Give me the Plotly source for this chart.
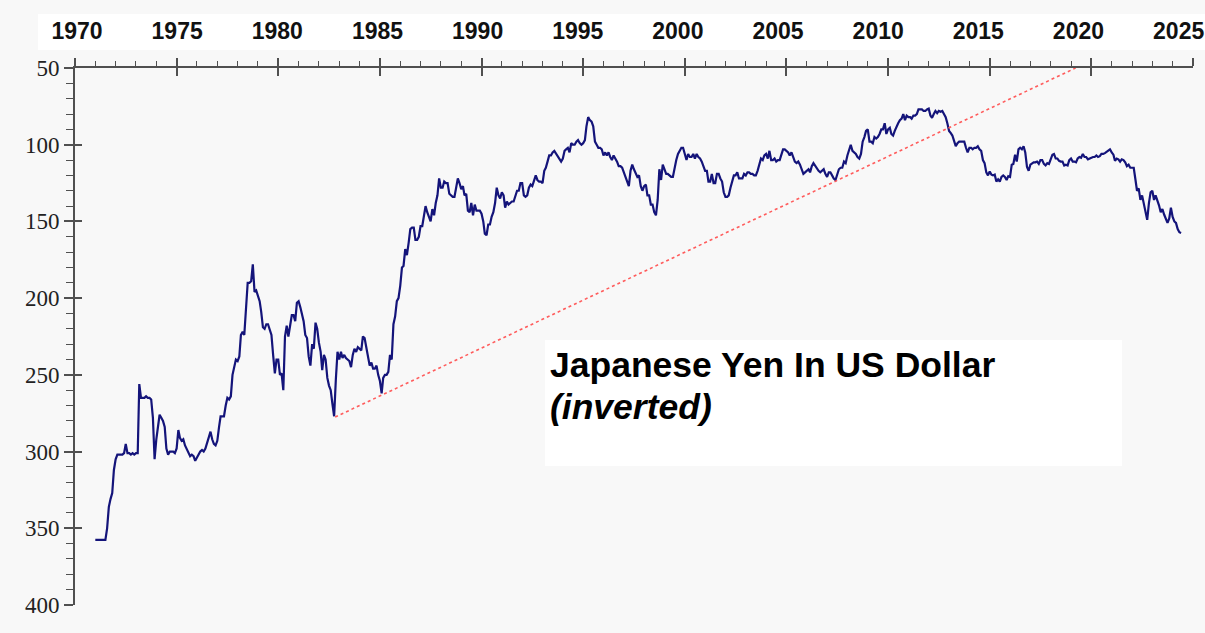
import pandas as pd
import plotly.graph_objects as go

# USD/JPY, monthly, Jan 1971 - Jun 2024 (yen per dollar)
yen_1970s = [
    357.6, 357.6, 357.6, 357.6, 357.6, 357.6, 357.6, 350, 336, 331, 327, 312,
    305, 302, 302, 302, 302, 301, 295, 301, 301, 302, 301, 302,
    301, 301, 256, 265, 265, 265, 264, 265, 265, 266, 278, 305,
    292, 285, 276, 278, 280, 284, 298, 302, 300, 300, 300, 301,
    298, 286, 291, 293, 292, 296, 298, 301, 303, 302, 303, 306,
    304, 302, 300, 299, 300, 298, 294, 290, 287, 292, 295, 296,
    293, 284, 277, 277, 277, 270, 265, 266, 264, 250, 244, 240,
    241, 238, 224, 222, 224, 204, 190, 190, 189, 178, 196, 195,
    199, 202, 209, 219, 220, 217, 217, 220, 224, 237, 249, 240,
]
yen_1980s = [
    240, 250, 249, 260, 225, 218, 225, 218, 211, 211, 215, 203,
    202, 206, 210, 215, 224, 226, 238, 244, 230, 233, 216, 220,
    229, 235, 247, 237, 240, 252, 257, 260, 269, 277, 253, 235,
    240, 235, 239, 237, 239, 240, 241, 245, 237, 233, 235, 232,
    233, 234, 225, 226, 232, 238, 244, 242, 246, 246, 244, 250,
    254, 262, 252, 250, 250, 248, 237, 240, 217, 212, 202, 200,
    192, 180, 179, 168, 172, 164, 155, 154, 154, 162, 162, 160,
    153, 153, 146, 140, 144, 147, 150, 142, 146, 138, 133, 122,
    128, 128, 124, 125, 125, 132, 133, 134, 134, 127, 122, 125,
    129, 127, 133, 132, 143, 144, 138, 146, 139, 143, 143, 143,
]
yen_1990s = [
    145, 150, 158, 159, 152, 152, 147, 144, 138, 128, 133, 135,
    131, 133, 141, 137, 139, 138, 137, 137, 133, 130, 130, 125,
    125, 133, 134, 133, 128, 126, 127, 124, 120, 123, 124, 124,
    125, 117, 115, 111, 107, 107, 105, 104, 106, 108, 109, 111,
    109, 104, 103, 102, 105, 99, 100, 100, 98, 97, 99, 100,
    99, 97, 88, 82, 84, 85, 88, 98, 100, 102, 102, 103,
    107, 105, 107, 105, 108, 110, 107, 109, 111, 114, 114, 115,
    118, 121, 124, 127, 117, 113, 116, 119, 121, 120, 127, 130,
    127, 126, 133, 133, 139, 139, 144, 146, 136, 116, 123, 113,
    116, 119, 119, 120, 121, 121, 115, 110, 106, 104, 102, 102,
]
yen_2000s = [
    107, 110, 106, 108, 108, 106, 109, 106, 108, 109, 111, 114,
    117, 117, 124, 124, 119, 125, 125, 119, 119, 122, 124, 131,
    134, 134, 133, 128, 124, 120, 120, 118, 122, 122, 122, 119,
    120, 118, 118, 119, 119, 120, 120, 117, 112, 109, 110, 107,
    106, 109, 104, 110, 110, 109, 111, 110, 110, 106, 103, 103,
    104, 105, 107, 105, 108, 111, 112, 111, 113, 116, 119, 118,
    117, 116, 118, 114, 112, 114, 115, 117, 118, 117, 116, 119,
    121, 118, 118, 120, 122, 123, 119, 116, 115, 115, 111, 112,
    107, 104, 100, 104, 105, 106, 108, 109, 106, 98, 95, 91,
    90, 98, 98, 99, 95, 96, 95, 93, 90, 90, 86, 93,
]
yen_2010s = [
    90, 89, 93, 94, 91, 88, 86, 84, 83, 80, 84, 81,
    82, 82, 83, 81, 81, 80, 77, 77, 77, 78, 78, 77,
    76.5, 81, 82.5, 80, 78, 79.5, 78, 78.5, 78, 80, 82, 86,
    91, 92.5, 94, 97.5, 101, 99, 98, 98, 98, 98, 102, 105,
    102, 102, 103, 102, 102, 101, 103, 104, 110, 112, 118, 120,
    117.5, 119.5, 120, 119.5, 124, 122.5, 124, 121, 120, 121, 123, 120.5,
    121, 113, 112.5, 106.5, 111, 103, 102, 103, 101, 105, 114.5, 117,
    113, 112, 111.5, 111.5, 111, 112.5, 110, 110, 112.5, 113.5, 112, 112.5,
    109, 106.5, 106, 109, 109, 110.5, 111, 111, 113.5, 113, 113.5, 110,
    109, 111, 111, 111.5, 109, 108, 108.5, 106, 108, 108, 109.5, 109,
]
yen_2020s = [
    108, 108, 108, 107, 108, 107.5, 106, 106, 105.5, 104.5, 104, 103,
    105, 106.5, 110.5, 109, 109.5, 111, 109.5, 110, 111.5, 114, 113, 115,
    115, 115, 122, 130, 128.5, 136, 133, 139, 145, 149, 138, 131,
    130, 136, 133, 136, 139.5, 144, 142, 145.5, 149, 151, 148, 141,
    147, 150, 151, 155, 157, 157.5,
]

# dotted support line
trend_dates = ["1982-10-20", "2019-03-25"]
trend_values = [277.5, 50]

yen = yen_1970s + yen_1980s + yen_1990s + yen_2000s + yen_2010s + yen_2020s
dates = pd.date_range("1971-01-01", periods=len(yen), freq="MS")

axis_col = "#505050"
bg = "#f8f8f8"

fig = go.Figure()
fig.add_trace(go.Scatter(x=dates, y=yen, mode="lines",
                         line=dict(color="#14147a", width=2.2), showlegend=False))
fig.add_trace(go.Scatter(x=trend_dates, y=trend_values, mode="lines",
                         line=dict(color="#ff5c5c", width=1.6, dash="dot"),
                         showlegend=False))
# invisible helpers so the overlay axes get drawn
fig.add_trace(go.Scatter(x=[dates[0]], y=[yen[0]], xaxis="x2", mode="markers",
                         marker=dict(opacity=0), hoverinfo="skip", showlegend=False))
fig.add_trace(go.Scatter(x=[dates[0]], y=[yen[0]], xaxis="x3", yaxis="y2", mode="markers",
                         marker=dict(opacity=0), hoverinfo="skip", showlegend=False))

x_range = ["1970-01-01", "2025-01-01"]
y_range = [400, 50]

fig.update_layout(
    width=1205, height=633,
    margin=dict(l=75, r=12, t=68, b=28),
    paper_bgcolor=bg, plot_bgcolor=bg,
    xaxis=dict(type="date", range=x_range, side="top", anchor="y", automargin=False,
               showline=True, linecolor=axis_col, linewidth=2,
               ticks="outside", ticklen=8, tickwidth=1.6, tickcolor=axis_col,
               tick0="1970-01-01", dtick="M60", showticklabels=False,
               showgrid=False, zeroline=False,
               minor=dict(dtick="M12", tick0="1970-01-01", ticks="outside", ticklen=5,
                          tickwidth=1, tickcolor=axis_col, showgrid=False)),
    xaxis2=dict(type="date", overlaying="x", side="top", anchor="y", automargin=False,
                range=["1969-11-25", "2025-09-20"], showline=False, ticks="",
                tick0="1970-01-01", dtick="M60", tickformat="%Y",
                tickfont=dict(family="Liberation Sans, Arial", size=23, color="#111111",
                              weight="bold"),
                ticklabelstandoff=23, showgrid=False, zeroline=False),
    xaxis3=dict(type="date", overlaying="x", side="top", anchor="y", automargin=False,
                range=x_range, showline=False, ticks="inside", ticklen=8, tickwidth=1.6,
                tickcolor=axis_col, tick0="1970-01-01", dtick="M60",
                showticklabels=False, showgrid=False, zeroline=False),
    yaxis=dict(range=y_range, anchor="x", automargin=False,
               showline=True, linecolor=axis_col, linewidth=2,
               ticks="outside", ticklen=9, tickwidth=1.6, tickcolor=axis_col,
               tick0=50, dtick=50,
               tickfont=dict(family="Liberation Serif, Times New Roman", size=23,
                             color="#222222"),
               showgrid=False, zeroline=False,
               minor=dict(dtick=10, tick0=50, ticks="outside", ticklen=7, tickwidth=1,
                          tickcolor=axis_col, showgrid=False)),
    yaxis2=dict(range=y_range, overlaying="y", side="left", anchor="x", automargin=False,
                ticks="inside", ticklen=7, tickwidth=1.6, tickcolor=axis_col,
                tick0=50, dtick=50, showticklabels=False, showline=False,
                showgrid=False, zeroline=False),
    shapes=[
        # white band behind the year labels
        dict(type="rect", xref="paper", yref="paper", x0=-0.0331, x1=1.0107,
             y0=1.0335, y1=1.1006, fillcolor="white", line=dict(width=0), layer="below"),
        # white title box
        dict(type="rect", xref="paper", yref="paper", x0=0.4204, x1=0.9365,
             y0=0.2588, y1=0.4935, fillcolor="white", line=dict(width=0), layer="below"),
    ],
    annotations=[
        dict(text="<b>Japanese Yen In US Dollar</b>", xref="paper", yref="paper",
             x=0.4231, y=0.4469, xanchor="left", yanchor="middle", showarrow=False,
             font=dict(family="Liberation Sans, Arial", size=35.5, color="black")),
        dict(text="<b><i>(inverted)</i></b>", xref="paper", yref="paper",
             x=0.4231, y=0.3687, xanchor="left", yanchor="middle", showarrow=False,
             font=dict(family="Liberation Sans, Arial", size=35.5, color="black")),
    ],
)

# drop the page's default body margin so the figure sits at the window origin
fig.write_html("out.html", config={"displayModeBar": False},
               post_script="document.body.style.margin = '0';")
